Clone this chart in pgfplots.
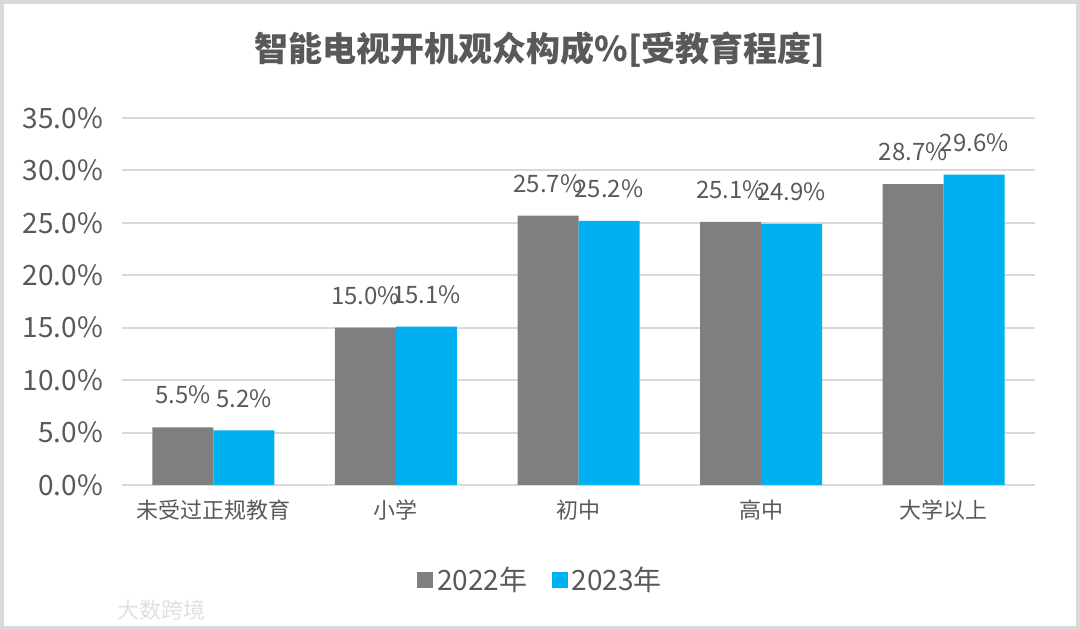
\documentclass[border=0pt]{standalone}
\usepackage{fontspec}
\setmainfont{Noto Sans CJK SC}
\usepackage{pgfplots}
\pgfplotsset{compat=1.18}
\definecolor{bargray}{HTML}{7F7F7F}
\definecolor{barblue}{HTML}{00B0F0}
\definecolor{txt}{HTML}{595959}
\definecolor{gridc}{HTML}{D9D9D9}
\begin{document}
\begin{tikzpicture}
% canvas 1080x630 px at 0.5pt per px
\path[use as bounding box] (0,0) rectangle (540pt,315pt);
\draw[gridc, line width=2pt] (1pt,1pt) rectangle (539pt,314pt);
\node[text=txt, font=\fontsize{17}{19}\selectfont\bfseries] at (270pt,290pt) {智能电视开机观众构成\%[受教育程度]};
\node[text=black!12, font=\fontsize{11}{12}\selectfont, anchor=west] at (55pt,10pt) {大数跨境};
\begin{axis}[
    at={(61pt,72.5pt)}, anchor=south west,
    scale only axis, width=456.5pt, height=183.5pt,
    ybar, bar width=30.5pt,
    xmin=-0.5, xmax=4.5, ymin=0, ymax=35,
    xtick=data,
    xticklabels={未受过正规教育,小学,初中,高中,大学以上},
    ytick={0,5,...,35},
    yticklabel={\pgfmathprintnumber[fixed,fixed zerofill,precision=1]{\tick}\%},
    /pgf/number format/assume math mode=true,
    axis line style={draw=none},
    major tick length=0pt,
    ymajorgrids, grid style={draw=gridc, line width=1pt},
    ticklabel style={text=txt},
    yticklabel style={font=\fontsize{14}{16}\selectfont, xshift=-6pt},
    xticklabel style={font=\fontsize{11}{13}\selectfont, yshift=-4pt},
    nodes near coords={\pgfmathprintnumber[fixed,fixed zerofill,precision=1]{\pgfplotspointmeta}\%},
    nodes near coords style={text=txt, font=\fontsize{12}{14}\selectfont, yshift=8pt},
    legend style={at={(0.4595,-0.259)}, anchor=center, draw=none, fill=none,
        legend columns=2, font=\fontsize{14}{16}\selectfont, text=txt,
        /tikz/every even column/.append style={column sep=10pt}},
    legend image code/.code={\fill[#1] (0pt,-4pt) rectangle (8pt,4pt);},
]
\addplot[fill=bargray, draw=none, bar shift=-15.25pt] coordinates {(0,5.5) (1,15.0) (2,25.7) (3,25.1) (4,28.7)};
\addlegendentry{2022年}
\addplot[fill=barblue, draw=none, bar shift=15.25pt] coordinates {(0,5.2) (1,15.1) (2,25.2) (3,24.9) (4,29.6)};
\addlegendentry{2023年}
\end{axis}
\end{tikzpicture}
\end{document}
